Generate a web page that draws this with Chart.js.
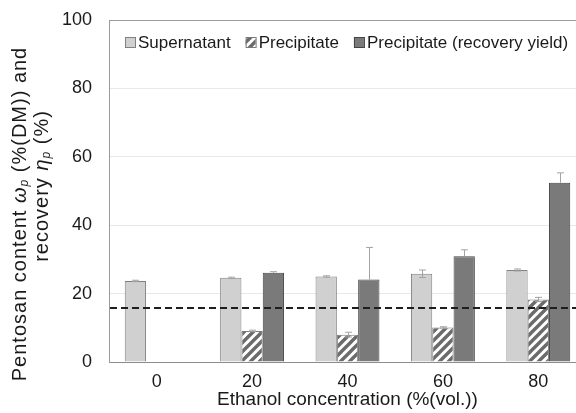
<!DOCTYPE html>
<html>
<head>
<meta charset="utf-8">
<script src="https://cdn.jsdelivr.net/npm/chart.js@4.4.1/dist/chart.umd.min.js"></script>
<style>
  html, body { margin: 0; padding: 0; background: #fff; overflow: hidden; }
  #wrap { position: relative; width: 600px; height: 413px; }
</style>
</head>
<body>
<div id="wrap"><canvas id="chart" width="600" height="413"></canvas></div>
<script>
// Data
const categories = ['0', '20', '40', '60', '80'];
const seriesNames = ['Supernatant', 'Precipitate', 'Precipitate (recovery yield)'];
const supernatant = [23.7, 24.6, 25.0, 25.8, 26.9];
const supernatantErr = [0.2, 0.2, 0.2, 1.1, 0.3];
const precipitate = [null, 9.1, 8.0, 10.1, 18.3];
const precipitateErr = [null, 0.2, 0.7, 0.2, 0.6];
const recovery = [null, 26.1, 24.1, 30.9, 52.4];
const recoveryErr = [null, 0.3, 9.4, 1.9, 2.9];
const referenceLevel = 15.8;
const yMin = 0, yMax = 100, yStep = 20;

const FONT = "'Liberation Sans', Arial, sans-serif";

// diagonal hatch for the precipitate bars
function makeHatch() {
  const s = 9;
  const c = document.createElement('canvas');
  c.width = s; c.height = s;
  const g = c.getContext('2d');
  g.fillStyle = '#ffffff';
  g.fillRect(0, 0, s, s);
  g.strokeStyle = '#6b6b6b';
  g.lineWidth = 3.4;
  g.beginPath();
  g.moveTo(-2, s + 2); g.lineTo(s + 2, -2);
  g.moveTo(-2, 2); g.lineTo(2, -2);
  g.moveTo(s - 2, s + 2); g.lineTo(s + 2, s - 2);
  g.stroke();
  return g.createPattern(c, 'repeat');
}
const hatch = makeHatch();

const errors = [supernatantErr, precipitateErr, recoveryErr];
const plusOnly = [false, false, true];

// error bars on top of the bars
const errorBars = {
  id: 'errorBars',
  afterDatasetsDraw(chart) {
    const ctx = chart.ctx;
    const y = chart.scales.y;
    ctx.save();
    ctx.strokeStyle = '#a3a3a3';
    ctx.lineWidth = 1;
    chart.data.datasets.forEach((ds, i) => {
      const meta = chart.getDatasetMeta(i);
      meta.data.forEach((bar, j) => {
        const v = ds.data[j];
        const e = errors[i][j];
        if (v == null || e == null) return;
        const x = Math.round(bar.x) + 0.5;
        const top = y.getPixelForValue(v + e);
        const bot = plusOnly[i] ? y.getPixelForValue(v) : y.getPixelForValue(v - e);
        ctx.beginPath();
        ctx.moveTo(x, top); ctx.lineTo(x, bot);
        ctx.moveTo(x - 3.5, top); ctx.lineTo(x + 3.5, top);
        if (!plusOnly[i]) { ctx.moveTo(x - 3.5, bot); ctx.lineTo(x + 3.5, bot); }
        ctx.stroke();
      });
    });
    ctx.restore();
  }
};

// dashed reference level
const refLine = {
  id: 'refLine',
  afterDatasetsDraw(chart) {
    const ctx = chart.ctx;
    const area = chart.chartArea;
    const py = Math.round(chart.scales.y.getPixelForValue(referenceLevel));
    ctx.save();
    ctx.strokeStyle = '#1e1e1e';
    ctx.lineWidth = 2;
    ctx.setLineDash([7, 4]);
    ctx.beginPath();
    ctx.moveTo(area.left + 1, py);
    ctx.lineTo(area.right, py);
    ctx.stroke();
    ctx.restore();
  }
};

// legend drawn inside the plot box, top left
const boxLegend = {
  id: 'boxLegend',
  afterDraw(chart) {
    const ctx = chart.ctx;
    const area = chart.chartArea;
    let x = area.left + 16;
    const cy = area.top + 22;
    ctx.save();
    ctx.font = '17px ' + FONT;
    ctx.textBaseline = 'middle';
    chart.data.datasets.forEach(ds => {
      ctx.fillStyle = ds.backgroundColor;
      ctx.fillRect(x, cy - 5, 10, 10);
      ctx.strokeStyle = ds.borderColor;
      ctx.lineWidth = 1;
      ctx.strokeRect(x + 0.5, cy - 4.5, 10, 10);
      ctx.fillStyle = '#1a1a1a';
      ctx.fillText(ds.label, x + 13, cy + 1);
      x += 13 + ctx.measureText(ds.label).width + 15;
    });
    ctx.restore();
  }
};

// rotated y title with italic greek and subscripts
const yTitle = {
  id: 'yTitle',
  afterDraw(chart) {
    const ctx = chart.ctx;
    const lines = [
      { cx: 20, cy: 214, runs: [['Pentosan content ', 'n'], ['ω', 'i'], ['p', 's'], [' (%(DM)) and', 'n']] },
      { cx: 42, cy: 186, runs: [['recovery ', 'n'], ['η', 'i'], ['p', 's'], [' (%)', 'n']] }
    ];
    const size = 20;
    const fontFor = k => k === 'i' ? 'italic ' + size + 'px ' + FONT
      : k === 's' ? 'italic ' + Math.round(size * 0.6) + 'px ' + FONT
      : size + 'px ' + FONT;
    ctx.save();
    ctx.fillStyle = '#1a1a1a';
    ctx.textBaseline = 'middle';
    ctx.letterSpacing = '1px';
    lines.forEach(line => {
      let total = 0;
      line.runs.forEach(r => { ctx.font = fontFor(r[1]); total += ctx.measureText(r[0]).width; });
      ctx.save();
      ctx.translate(line.cx, line.cy);
      ctx.rotate(-Math.PI / 2);
      let x = -total / 2;
      line.runs.forEach(r => {
        ctx.font = fontFor(r[1]);
        ctx.fillText(r[0], x, r[1] === 's' ? 5 : 0);
        x += ctx.measureText(r[0]).width;
      });
      ctx.restore();
    });
    ctx.restore();
  }
};

new Chart(document.getElementById('chart'), {
  type: 'bar',
  data: {
    labels: categories,
    datasets: [
      { label: seriesNames[0], data: supernatant, backgroundColor: '#d0d0d0', borderColor: '#808080', borderWidth: 1 },
      { label: seriesNames[1], data: precipitate, backgroundColor: hatch, borderColor: '#7a7a7a', borderWidth: 1 },
      { label: seriesNames[2], data: recovery, backgroundColor: '#7a7a7a', borderColor: '#444444', borderWidth: 1 }
    ]
  },
  options: {
    responsive: false,
    animation: false,
    devicePixelRatio: 1,
    layout: { padding: { left: 0, right: 14, top: 20, bottom: 0 } },
    datasets: { bar: { categoryPercentage: 0.67, barPercentage: 1 } },
    plugins: { legend: { display: false }, tooltip: { enabled: false } },
    scales: {
      x: {
        grid: { display: false, drawTicks: false },
        border: { display: true, color: '#8c8c8c', width: 1 },
        ticks: { color: '#1a1a1a', font: { family: FONT, size: 18 }, padding: 9 },
        title: { display: true, text: 'Ethanol concentration (%(vol.))', color: '#1a1a1a', font: { family: FONT, size: 19 }, padding: { top: 0, bottom: 2 } },
        afterFit: s => { s.height = 51; s.paddingLeft = 0; s.paddingRight = 0; }
      },
      y: {
        min: yMin, max: yMax,
        grid: {
          drawTicks: false,
          color: c => c.tick.value === yMax ? '#9a9a9a' : '#e8e8e8',
          lineWidth: 1
        },
        border: { display: true, color: '#9a9a9a', width: 1 },
        ticks: { stepSize: yStep, color: '#1a1a1a', font: { family: FONT, size: 18 }, padding: 17 },
        afterFit: s => { s.width = 109; s.paddingTop = 0; s.paddingBottom = 0; }
      }
    }
  },
  plugins: [errorBars, refLine, boxLegend, yTitle]
});
</script>
</body>
</html>
